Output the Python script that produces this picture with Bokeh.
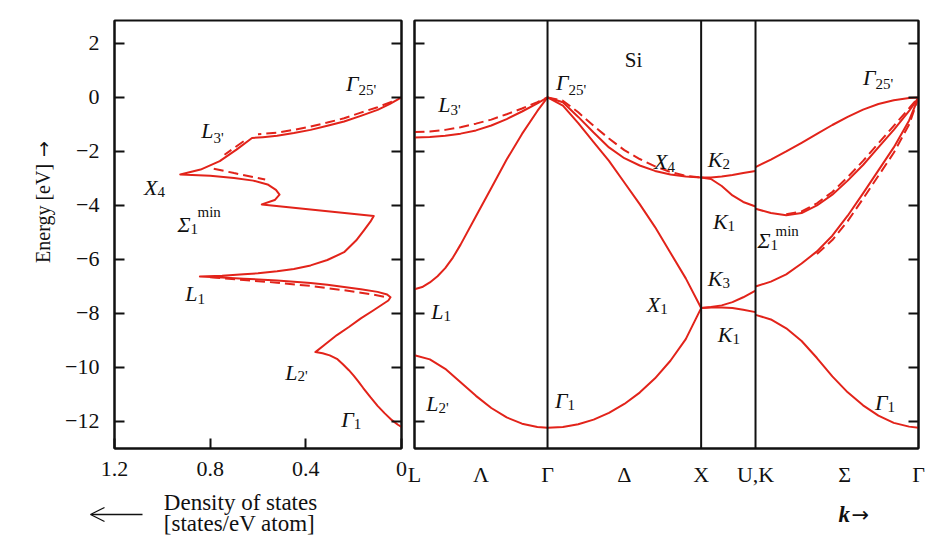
import math
from bokeh.plotting import figure
from bokeh.layouts import row, column
from bokeh.models import (Range1d, FixedTicker, LinearAxis, Span, Arrow,
                          OpenHead, ColumnDataSource, CustomJSTickFormatter)
from bokeh.core.properties import value
from bokeh.embed import file_html
from bokeh.resources import INLINE

RED = "#e2231a"
INK = "#111111"
FONT = "Liberation Serif"
ARROW_FONT = "DejaVu Sans"

# ---------------- axes ----------------
e_ticks = [-12, -10, -8, -6, -4, -2, 0, 2]
dos_ticks = [1.2, 0.8, 0.4, 0.0]

# symmetry points along the k path (units of 2*pi/a)
k_points = [0.0, 0.866, 1.866, 2.220, 3.281]
k_tick_pos = [0.0, 0.433, 0.866, 1.366, 1.866, 2.220, 2.800, 3.281]
k_tick_labels = ["L", "\u039b", "\u0393", "\u0394", "X", "U,K", "\u03a3", "\u0393"]

# ---------------- density of states (states/eV atom vs energy, eV) ----------------
dos_solid = [0.00, 0.05, 0.10, 0.17, 0.24, 0.31, 0.38, 0.45, 0.52, 0.58, 0.625,
             0.69, 0.76, 0.84, 0.925,
             0.80, 0.70, 0.62, 0.56, 0.525, 0.51, 0.53, 0.584,
             0.116,
             0.13, 0.157, 0.19, 0.24, 0.31, 0.38, 0.45, 0.52, 0.60, 0.66, 0.75, 0.843,
             0.75, 0.66, 0.52, 0.38, 0.31, 0.24, 0.17, 0.10, 0.06, 0.046, 0.055, 0.074,
             0.12, 0.17, 0.22, 0.27, 0.32, 0.36,
             0.33, 0.30, 0.27, 0.245, 0.22, 0.20, 0.18, 0.16, 0.13, 0.10, 0.07, 0.04,
             0.015, 0.0]
e_dos_solid = [0.00, -0.25, -0.46, -0.68, -0.89, -1.05, -1.20, -1.32, -1.42, -1.47, -1.50,
               -1.93, -2.36, -2.67, -2.85,
               -2.90, -2.98, -3.08, -3.22, -3.42, -3.60, -3.80, -3.96,
               -4.39,
               -4.60, -4.92, -5.30, -5.73, -6.02, -6.22, -6.35, -6.44, -6.51, -6.55, -6.60, -6.63,
               -6.67, -6.71, -6.78, -6.87, -6.94, -7.02, -7.10, -7.20, -7.30, -7.40, -7.52, -7.63,
               -7.90, -8.18, -8.50, -8.80, -9.15, -9.43,
               -9.47, -9.55, -9.68, -9.88, -10.10, -10.30, -10.52, -10.76, -11.10, -11.42,
               -11.70, -11.95, -12.12, -12.20]

dos_dash_a = [0.04, 0.10, 0.17, 0.24, 0.31, 0.38, 0.45, 0.52, 0.60]
e_dos_dash_a = [-0.16, -0.36, -0.56, -0.77, -0.93, -1.08, -1.20, -1.30, -1.36]
dos_dash_b = [0.66, 0.74]
e_dos_dash_b = [-1.62, -2.12]
dos_dash_c = [0.785, 0.70, 0.57]
e_dos_dash_c = [-2.64, -2.80, -3.04]
dos_dash_d = [0.80, 0.66, 0.52, 0.38, 0.24, 0.12, 0.06]
e_dos_dash_d = [-6.66, -6.76, -6.86, -6.98, -7.14, -7.30, -7.40]

# ---------------- band structure E(k), eV ----------------
# L - Gamma (Lambda)
k_lam = [0.0, 0.1, 0.2, 0.3, 0.4, 0.5, 0.6, 0.7, 0.8, 0.866]
lam_L3 = [-1.48, -1.46, -1.42, -1.34, -1.22, -1.04, -0.80, -0.52, -0.22, 0.0]
lam_L3_dash = [-1.28, -1.26, -1.20, -1.10, -0.97, -0.82, -0.62, -0.41, -0.17, 0.0]
lam_L2 = [-9.55, -9.70, -10.05, -10.55, -11.05, -11.50, -11.85, -12.08, -12.20, -12.23]
k_lam_L1 = [0.0, 0.05, 0.1, 0.15, 0.2, 0.25, 0.3, 0.4, 0.5, 0.6, 0.7, 0.8, 0.866]
lam_L1 = [-7.10, -7.02, -6.85, -6.62, -6.32, -5.93, -5.45, -4.40, -3.35, -2.30, -1.35,
          -0.50, 0.0]

# Gamma - X (Delta)
k_del = [0.866, 0.966, 1.066, 1.166, 1.266, 1.366, 1.466, 1.566, 1.666, 1.766, 1.866]
del_X4 = [0.0, -0.18, -0.72, -1.30, -1.85, -2.25, -2.52, -2.72, -2.85, -2.93, -2.96]
del_X4_dash = [0.0, -0.12, -0.55, -1.05, -1.52, -1.95, -2.28, -2.55, -2.76, -2.90, -2.96]
del_X1_top = [0.0, -0.30, -0.95, -1.65, -2.35, -3.15, -3.95, -4.80, -5.75, -6.70, -7.80]
del_X1_bot = [-12.23, -12.20, -12.10, -11.93, -11.68, -11.35, -10.93, -10.40, -9.75, -8.95, -7.80]

# X - U
k_xu = [1.866, 1.93, 2.0, 2.07, 2.14, 2.22]
xu_K2 = [-2.96, -2.96, -2.93, -2.87, -2.80, -2.72]
xu_K1a = [-2.96, -3.02, -3.28, -3.63, -3.87, -4.04]
xu_K3 = [-7.80, -7.76, -7.70, -7.58, -7.40, -7.15]
xu_K1b = [-7.80, -7.78, -7.78, -7.80, -7.86, -7.95]

# K - Gamma (Sigma)
k_sig = [2.22, 2.32, 2.42, 2.52, 2.62, 2.72, 2.82, 2.92, 3.02, 3.12, 3.22, 3.281]
sig_top = [-2.58, -2.30, -2.00, -1.68, -1.35, -1.02, -0.72, -0.45, -0.24, -0.10, -0.02, 0.0]
sig_min = [-4.12, -4.28, -4.36, -4.28, -4.00, -3.60, -3.08, -2.50, -1.85, -1.20, -0.50, 0.0]
sig_K3 = [-7.00, -6.82, -6.55, -6.15, -5.70, -5.12, -4.38, -3.55, -2.70, -1.85, -0.85, 0.0]
sig_G1 = [-8.05, -8.22, -8.55, -9.02, -9.65, -10.33, -10.92, -11.40, -11.78, -12.05,
          -12.19, -12.23]
k_sig_dash = [2.42, 2.52, 2.62, 2.72, 2.82, 2.92, 3.02, 3.12, 3.22, 3.281]
sig_min_dash = [-4.32, -4.22, -3.92, -3.50, -2.95, -2.35, -1.70, -1.05, -0.40, 0.0]
k_sig_dash2 = [2.62, 2.72, 2.82, 2.92, 3.02, 3.12, 3.22, 3.281]
sig_K3_dash = [-5.80, -5.28, -4.58, -3.75, -2.90, -2.05, -1.00, 0.0]

# ---------------- level labels: (x, y, symbol, index, y of index) ----------------
dos_level_labels = [
    (0.180, 0.51, "\u0393", "25'", 0.27),
    (0.786, -1.24, "L", "3'", -1.49),
    (1.020, -3.33, "X", "4", -3.51),
    (0.882, -4.69, "\u03a3", "1", -4.88),
    (0.853, -7.26, "L", "1", -7.45),
    (0.435, -10.17, "L", "2'", -10.32),
    (0.200, -11.93, "\u0393", "1", -12.08),
]
dos_min_label = (0.853, -4.25)

band_level_labels = [
    (1.003, 0.55, "\u0393", "25'", 0.27),
    (0.234, -0.26, "L", "3'", -0.46),
    (1.647, -2.39, "X", "4", -2.56),
    (2.005, -2.28, "K", "2", -2.45),
    (2.038, -4.60, "K", "1", -4.76),
    (2.318, -5.30, "\u03a3", "1", -5.46),
    (3.001, 0.73, "\u0393", "25'", 0.49),
    (0.189, -7.94, "L", "1", -8.11),
    (0.156, -11.33, "L", "2'", -11.49),
    (0.996, -11.22, "\u0393", "1", -11.38),
    (1.600, -7.65, "X", "1", -7.82),
    (2.005, -6.69, "K", "3", -6.86),
    (2.070, -8.79, "K", "1", -8.96),
    (3.080, -11.29, "\u0393", "1", -11.46),
]
band_min_label = (2.35, -4.95)

E_RANGE = (-13.0, 2.85)
ROW_H = 489
STRIP_H = 539 - ROW_H
FRAME_BOTTOM = 449

energy_fmt = CustomJSTickFormatter(
    code="return tick < 0 ? '\\u2212' + Math.abs(tick) : String(tick);")
dos_fmt = CustomJSTickFormatter(
    code="return tick === 0 ? '0' : tick.toFixed(1);")
blank_fmt = CustomJSTickFormatter(code="return '';")
k_fmt = CustomJSTickFormatter(
    args=dict(pos=k_tick_pos, labels=k_tick_labels),
    code="""
let best = 0;
for (let i = 0; i < pos.length; i++) {
  if (Math.abs(pos[i] - tick) < Math.abs(pos[best] - tick)) best = i;
}
return labels[best];
""")


def style_axis(ax, tick_len=10, label_size="22px", standoff=13):
    ax.axis_line_width = 2
    ax.axis_line_color = INK
    ax.major_tick_in = tick_len
    ax.major_tick_out = 0
    ax.major_tick_line_width = 2
    ax.major_tick_line_color = INK
    ax.minor_tick_line_color = None
    ax.major_label_text_font = FONT
    ax.major_label_text_font_size = label_size
    ax.major_label_text_color = INK
    ax.major_label_standoff = standoff


def panel(width, x_range, border_left, border_right):
    p = figure(width=width, height=ROW_H, x_range=x_range,
               y_range=Range1d(*E_RANGE), output_backend="svg",
               toolbar_location=None, min_border_left=border_left,
               min_border_right=border_right, min_border_top=20,
               min_border_bottom=ROW_H - FRAME_BOTTOM)
    p.grid.visible = False
    p.outline_line_color = INK
    p.outline_line_width = 2
    p.outline_line_alpha = 1.0
    p.background_fill_color = "white"
    p.border_fill_color = "white"
    return p


def text_strip(width, height):
    # bare canvas for captions that sit outside the plot frames
    p = figure(width=width, height=height, x_range=Range1d(0, width),
               y_range=Range1d(height, 0), output_backend="svg",
               toolbar_location=None, x_axis_type=None, y_axis_type=None,
               min_border_left=0, min_border_right=0, min_border_top=0,
               min_border_bottom=0)
    p.grid.visible = False
    p.outline_line_color = None
    p.background_fill_color = "white"
    p.border_fill_color = "white"
    return p


def add_level_labels(p, specs, min_pos):
    mains = ColumnDataSource(dict(x=[s[0] for s in specs], y=[s[1] for s in specs],
                                  t=[s[2] for s in specs]))
    subs = ColumnDataSource(dict(x=[s[0] for s in specs], y=[s[4] for s in specs],
                                 t=[s[3] for s in specs]))
    p.text(x="x", y="y", text="t", source=mains, text_font=value(FONT),
           text_font_style="italic", text_font_size="22px", text_align="right",
           text_baseline="middle", text_color=INK)
    p.text(x="x", y="y", text="t", source=subs, text_font=value(FONT),
           text_font_size="15px", text_align="left", text_baseline="middle",
           text_color=INK)
    p.text(x=[min_pos[0]], y=[min_pos[1]], text=["min"], text_font=value(FONT),
           text_font_size="15px", text_align="left", text_baseline="middle",
           text_color=INK)


# ================= energy caption at far left =================
pE = text_strip(56, ROW_H)
pE.text(x=[42], y=[277], text=["Energy [eV]"], angle=math.pi / 2,
        text_font=value(FONT), text_font_size="20px", text_align="left",
        text_baseline="middle", text_color=INK)
pE.text(x=[42], y=[156], text=["\u2192"], angle=math.pi / 2,
        text_font=value(ARROW_FONT), text_font_size="19px", text_align="left",
        text_baseline="middle", text_color=INK)

# ================= left panel: density of states =================
p1 = panel(351, Range1d(1.2, 0.0), 58, 6)
p1.xaxis.ticker = FixedTicker(ticks=dos_ticks)
p1.xaxis.formatter = dos_fmt
p1.yaxis.ticker = FixedTicker(ticks=e_ticks)
p1.yaxis.formatter = energy_fmt
style_axis(p1.xaxis[0])
style_axis(p1.yaxis[0], standoff=15)
right1 = LinearAxis(ticker=FixedTicker(ticks=e_ticks), formatter=blank_fmt)
style_axis(right1, standoff=0)
p1.add_layout(right1, "right")

p1.line(dos_solid, e_dos_solid, line_color=RED, line_width=2, line_join="round")
for xs, ys in [(dos_dash_a, e_dos_dash_a), (dos_dash_b, e_dos_dash_b),
               (dos_dash_c, e_dos_dash_c), (dos_dash_d, e_dos_dash_d)]:
    p1.line(xs, ys, line_color=RED, line_width=2, line_dash="10 5")

add_level_labels(p1, dos_level_labels, dos_min_label)

# ================= right panel: band structure =================
p2 = panel(523, Range1d(k_points[0], k_points[-1]), 7, 12)
p2.xaxis.ticker = FixedTicker(ticks=k_tick_pos)
p2.xaxis.formatter = k_fmt
style_axis(p2.xaxis[0], tick_len=0)
p2.yaxis.ticker = FixedTicker(ticks=e_ticks)
p2.yaxis.formatter = blank_fmt
style_axis(p2.yaxis[0], standoff=0)
right2 = LinearAxis(ticker=FixedTicker(ticks=e_ticks), formatter=blank_fmt)
style_axis(right2, standoff=0)
p2.add_layout(right2, "right")

for kp in k_points[1:-1]:
    p2.add_layout(Span(location=kp, dimension="height", line_color=INK, line_width=2))

solid_bands = [
    (k_lam, lam_L3), (k_lam_L1, lam_L1), (k_lam, lam_L2),
    (k_del, del_X4), (k_del, del_X1_top), (k_del, del_X1_bot),
    (k_xu, xu_K2), (k_xu, xu_K1a), (k_xu, xu_K3), (k_xu, xu_K1b),
    (k_sig, sig_top), (k_sig, sig_min), (k_sig, sig_K3), (k_sig, sig_G1),
]
dashed_bands = [
    (k_lam, lam_L3_dash), (k_del, del_X4_dash),
    (k_sig_dash, sig_min_dash), (k_sig_dash2, sig_K3_dash),
]
for ks, es in solid_bands:
    p2.line(ks, es, line_color=RED, line_width=2, line_join="round")
for ks, es in dashed_bands:
    p2.line(ks, es, line_color=RED, line_width=2, line_dash="10 5")

add_level_labels(p2, band_level_labels, band_min_label)
p2.text(x=[1.426], y=[1.375], text=["Si"], text_font=value(FONT),
        text_font_size="21px", text_align="center", text_baseline="middle",
        text_color=INK)

# ================= captions below the panels =================
pB = text_strip(930, STRIP_H)
pB.text(x=[240, 239], y=[13, 34], text=["Density of states", "[states/eV atom]"],
        text_font=value(FONT), text_font_size="23px", text_align="center",
        text_baseline="middle", text_color=INK)
pB.add_layout(Arrow(end=OpenHead(size=14, line_width=1.3, line_color=INK),
                    x_start=142, y_start=25, x_end=90, y_end=25,
                    line_width=1.3, line_color=INK))
pB.text(x=[838], y=[25], text=["k"], text_font=value(FONT),
        text_font_style="bold italic", text_font_size="23px", text_align="left",
        text_baseline="middle", text_color=INK)
pB.text(x=[851], y=[25], text=["\u2192"], text_font=value(ARROW_FONT),
        text_font_size="21px", text_align="left", text_baseline="middle",
        text_color=INK)

layout = column(row(pE, p1, p2), pB)
open("out.html", "w").write(file_html(layout, INLINE))
